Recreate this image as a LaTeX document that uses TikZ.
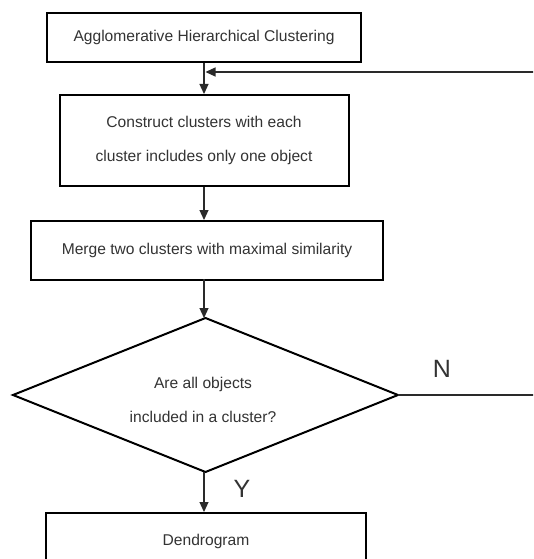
\documentclass[tikz,border=0pt]{standalone}
\usepackage{fontspec}
\setmainfont{Liberation Sans}
\usetikzlibrary{arrows.meta,calc}
\definecolor{txt}{HTML}{333333}
\definecolor{ln}{HTML}{2A2A2A}
\tikzset{
  procbox/.style={draw=black, line width=2pt, fill=white, inner sep=0pt,
    font=\fontsize{15.6}{34}\selectfont, text=txt, align=center},
  conn/.style={draw=ln, line width=1.2pt, -{Triangle[length=10pt,width=9pt]}},
  plainconn/.style={draw=ln, line width=1.2pt},
  lbl/.style={font=\fontsize{25}{30}\selectfont, text=txt, inner sep=0pt},
  dtext/.style={font=\fontsize{15.6}{34}\selectfont, text=txt, align=center, inner sep=0pt}
}
\begin{document}
\begin{tikzpicture}[x=1pt,y=-1pt]
\useasboundingbox (0,0) rectangle (533,559);
\clip (0,0) rectangle (533,559);
\fill[white] (0,0) rectangle (533,559);

\node[procbox, minimum width=314pt, minimum height=49pt] (b1) at (204,37.5)
  {Agglomerative Hierarchical Clustering};
\node[procbox, minimum width=289pt, minimum height=91pt] (b2) at (204,140.5)
  {Construct clusters with each\\cluster includes only one object};
\node[procbox, minimum width=352pt, minimum height=59pt] (b3) at (207,250.5)
  {Merge two clusters with maximal similarity};

\coordinate (dT) at (205.5,318);
\coordinate (dL) at (13,395);
\coordinate (dR) at (398,395);
\coordinate (dB) at (205.5,472);
\draw[black, line width=2pt, line join=miter] (dT) -- (dR) -- (dB) -- (dL) -- cycle;
\node[dtext] (dtxt) at (203,400) {Are all objects\\included in a cluster?};

\node[procbox, minimum width=320pt, minimum height=56pt] (b4) at (206,541)
  {Dendrogram};

\node[lbl] (lN) at (442,369) {N};
\node[lbl] (lY) at (242,489) {Y};

\coordinate (fbR) at (540,72);
\coordinate (nR) at (540,395);

\draw[conn] (b1.south) -- (b2.north);
\draw[conn] (fbR) -- ($(fbR -| b1.south)+(1.5,0)$);
\draw[conn] (b2.south) -- (b2.south |- b3.north);
\draw[conn] (b3.north -| b2.south) ++(0,59) coordinate (b3s) -- (b3s |- dT);
\draw[plainconn] (dR) -- (nR);
\draw[conn] (dB -| b2.south) -- (b2.south |- b4.north);
\end{tikzpicture}
\end{document}
